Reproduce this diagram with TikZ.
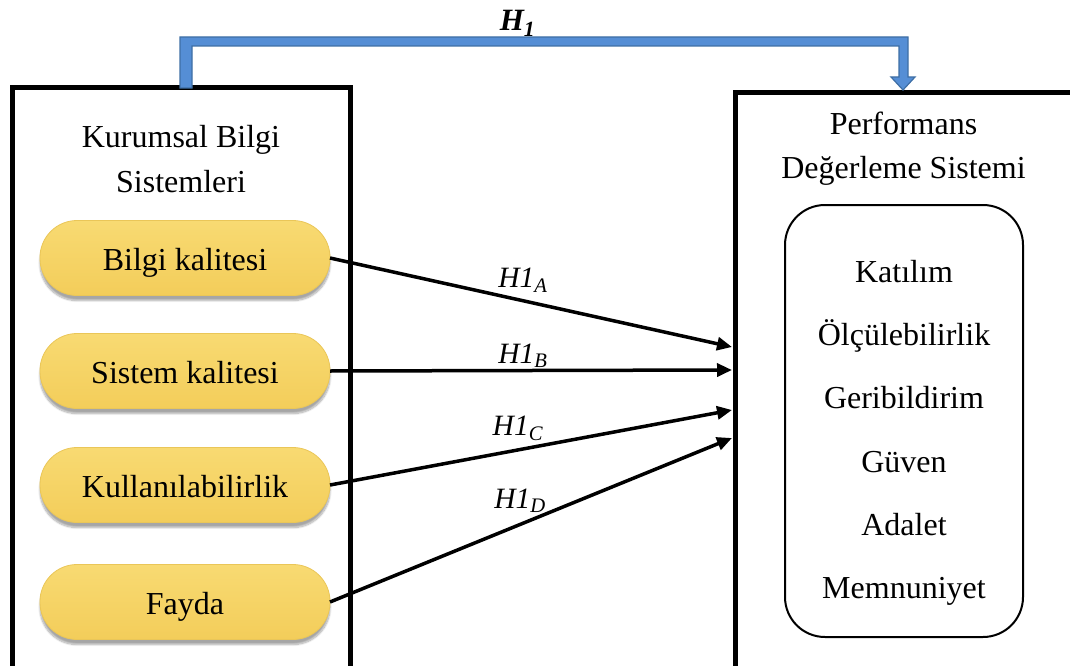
\documentclass[tikz,border=0pt]{standalone}
\usepackage{fontspec}
\setmainfont{Liberation Serif}
\usetikzlibrary{arrows.meta,shadows.blur,calc}

\definecolor{pillTop}{HTML}{F8DA72}
\definecolor{pillMid}{HTML}{FFE684}
\definecolor{pillBot}{HTML}{F3CD5A}
\definecolor{pillEdge}{HTML}{EAC658}
\definecolor{hBlue}{HTML}{558ED5}
\definecolor{hBlueEdge}{HTML}{3E6FA5}

\newcommand\mainfs{\fontsize{32}{38}\selectfont}
\newcommand\labfs{\fontsize{29.5}{34}\selectfont}

\begin{document}
\begin{tikzpicture}[x=1pt,y=-1pt,
  frame/.style={draw=black, line width=5pt, inner sep=0pt, outer sep=0pt},
  pill/.style={rounded corners=37pt, minimum width=290pt, minimum height=75pt,
    inner sep=0pt, outer sep=0pt, draw=pillEdge, line width=0.8pt,
    top color=pillTop, middle color=pillMid, bottom color=pillBot,
    blur shadow={shadow xshift=0pt, shadow yshift=-5pt, shadow opacity=35, shadow blur steps=10},
    font=\mainfs, text height=25pt, text depth=0pt},
  title/.style={font=\mainfs, anchor=base, inner sep=0pt},
  item/.style={font=\mainfs, anchor=base, inner sep=0pt},
  hlab/.style={font=\labfs, anchor=base, inner sep=0pt},
  link/.style={draw=black, line width=3.5pt, -{Triangle[length=15pt,width=13pt]}},
  h1arrow/.style={fill=hBlue, draw=hBlueEdge, line width=1.2pt, line join=miter}
]
\useasboundingbox (0,0) rectangle (1070,666);
\clip (0,0) rectangle (1070,666);

% the two system frames (their lower parts run past the page)
\node[frame, minimum width=338pt, minimum height=632pt] (L) at (181,404) {};
\node[frame, minimum width=385pt, minimum height=627pt] (R) at (927.5,406.5) {};

% frame titles
\node[title] (lt1) at (181,147) {Kurumsal Bilgi};
\node[title] (lt2) at (181,192) {Sistemleri};
\node[title] (rt1) at (903.5,135) {Performans};
\node[title] (rt2) at (903.5,178) {Değerleme Sistemi};

% information system qualities
\node[pill] (pA) at (185,258) {Bilgi kalitesi};
\node[pill] (pB) at (185,371) {Sistem kalitesi};
\node[pill] (pC) at (185,485) {Kullanılabilirlik};
\node[pill] (pD) at (185,602) {Fayda};

% appraisal dimensions
\node[draw=black, line width=2pt, rounded corners=40pt, minimum width=238pt,
      minimum height=432pt, inner sep=0pt, outer sep=0pt] (dims) at (904,421) {};
\node[item] (d1) at (904,282) {Katılım};
\node[item] (d2) at (904,345) {Ölçülebilirlik};
\node[item] (d3) at (904,408) {Geribildirim};
\node[item] (d4) at (904,472) {Güven};
\node[item] (d5) at (904,535) {Adalet};
\node[item] (d6) at (904,598) {Memnuniyet};

% main hypothesis connector
\coordinate (h1s) at ($(L.north west)+(168,0)$);
\coordinate (h1e) at ($(R.north west)+(168,-3)$);
\draw[h1arrow] (h1s) -- ++(0,-51) -- ++(728,0) -- ++(0,40) -- ++(7,0)
  -- (h1e) -- ++(-12,-13) -- ++(8,0) -- ++(0,-31) -- ++(-707,0) -- ++(0,42) -- cycle;
\node[font=\fontsize{31}{36}\selectfont\bfseries\itshape, anchor=base, inner sep=0pt] (h1)
  at (517.5,31) {H\textsubscript{1}};

% sub-hypothesis connectors
\coordinate (eA) at (732,347);
\coordinate (eB) at (732,370);
\coordinate (eC) at (732,410);
\coordinate (eD) at (732,438);
\draw[link] (pA.east) -- (eA);
\draw[link] (pB.east) -- (eB);
\draw[link] (pC.east) -- (eC);
\draw[link] (pD.east) -- (eD);

\node[hlab] (lA) at (523,287) {\textit{H1}\textsubscript{\textit{A}}};
\node[hlab] (lB) at (523,363) {\textit{H1}\textsubscript{\textit{B}}};
\node[hlab] (lC) at (518,435) {\textit{H1}\textsubscript{\textit{C}}};
\node[hlab] (lD) at (520,508) {\textit{H1}\textsubscript{\textit{D}}};
\end{tikzpicture}
\end{document}
